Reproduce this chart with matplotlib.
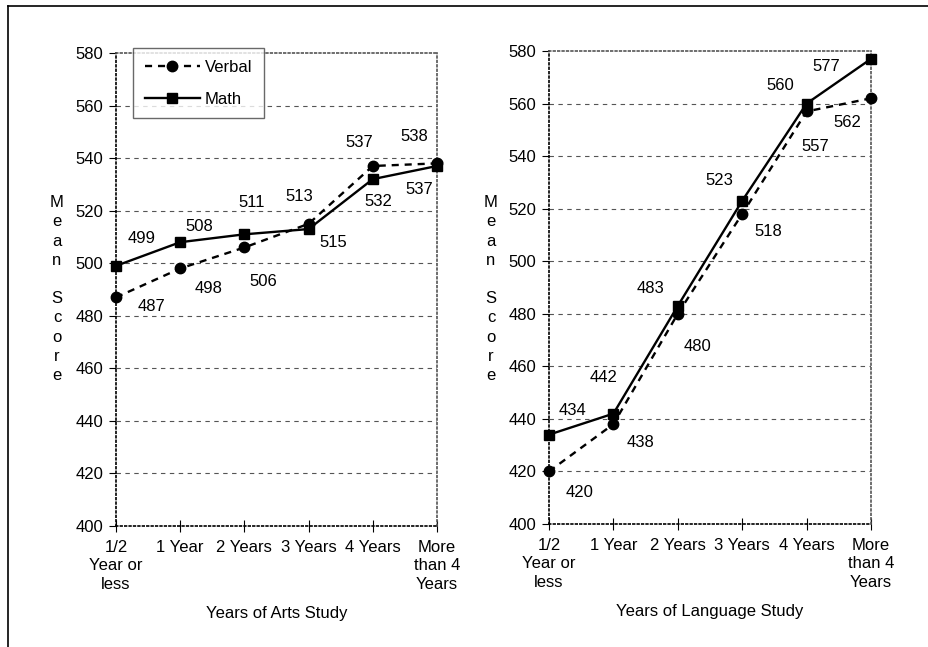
import numpy as np
import matplotlib.pyplot as plt
from matplotlib.lines import Line2D

plt.rcParams['font.family'] = ['Liberation Sans', 'DejaVu Sans']

# categories
cat_labels = ["1/2\nYear or\nless", "1 Year", "2 Years", "3 Years", "4 Years", "More\nthan 4\nYears"]

# arts study scores
arts_verbal = [487, 498, 506, 515, 537, 538]
arts_math = [499, 508, 511, 513, 532, 537]

# language study scores
lang_verbal = [420, 438, 480, 518, 557, 562]
lang_math = [434, 442, 483, 523, 560, 577]

# label offsets in pixels (dx, dy)
arts_verbal_off = [(35, -9), (28, -20), (19, -34), (25, -19), (-14, 23), (-23, 27)]
arts_math_off = [(26, 27), (19, 16), (7, 32), (-9, 33), (6, -22), (-18, -24)]
lang_verbal_off = [(31, -21), (27, -18), (20, -33), (26, -18), (9, -35), (-24, -24)]
lang_math_off = [(24, 24), (-10, 36), (-27, 17), (-23, 20), (-26, 18), (-45, -8)]

W, H = 929, 647
fig = plt.figure(figsize=(W / 100, H / 100), dpi=100)

FS = 12


def make_panel(rect, verbal, math, voff, moff, xlabel, ylab_x, legend=False):
    ax = fig.add_axes(rect)
    x = np.arange(len(cat_labels))
    ax.plot(x, verbal, color='black', linestyle=(0, (3, 2.5)), linewidth=1.7,
            marker='o', markersize=7.5, label='Verbal', clip_on=False, zorder=3)
    ax.plot(x, math, color='black', linestyle='-', linewidth=1.7,
            marker='s', markersize=7.5, label='Math', clip_on=False, zorder=3)
    for xi, v, o in zip(x, verbal, voff):
        ax.annotate(str(v), (xi, v), xytext=o, textcoords='offset pixels',
                    ha='center', va='center', fontsize=FS)
    for xi, v, o in zip(x, math, moff):
        ax.annotate(str(v), (xi, v), xytext=o, textcoords='offset pixels',
                    ha='center', va='center', fontsize=FS)

    ax.set_xlim(0, 5)
    ax.set_ylim(400, 580)
    ax.set_yticks(range(400, 581, 20))
    ax.set_xticks(x)
    ax.set_xticklabels(cat_labels, fontsize=FS, linespacing=1.3)
    ax.tick_params(axis='y', direction='out', length=5, labelsize=FS, pad=4)
    ax.tick_params(axis='x', direction='inout', length=8, pad=6)
    for yv in range(420, 561, 20):
        ax.axhline(yv, color='#555555', linestyle=(0, (4, 4)), linewidth=0.8, zorder=1)
    for s in ax.spines.values():
        s.set_linestyle(':')
        s.set_color('#555555')
        s.set_linewidth(1.2)
    ax.spines['bottom'].set_color('black')
    ax.spines['left'].set_color('black')
    ax.set_xlabel(xlabel, fontsize=FS, labelpad=10)

    fig.text(ylab_x / W, 1 - 289 / H, "M\ne\na\nn\n\nS\nc\no\nr\ne",
             ha='center', va='center', fontsize=FS, linespacing=1.35)

    if legend:
        leg = ax.legend(loc='upper left', bbox_to_anchor=(0.053, 1.01), fontsize=FS,
                        frameon=True, fancybox=False, handlelength=3.3,
                        borderpad=0.7, labelspacing=1.0, handletextpad=0.3,
                        borderaxespad=0)
        leg.get_frame().set_edgecolor('#444444')
        leg.get_frame().set_linewidth(1.0)
        leg.set_zorder(5)
    return ax


make_panel([116 / W, 1 - 526 / H, 321 / W, 473 / H], arts_verbal, arts_math,
           arts_verbal_off, arts_math_off, "Years of Arts Study", 57, legend=True)
make_panel([549 / W, 1 - 524 / H, 322 / W, 473 / H], lang_verbal, lang_math,
           lang_verbal_off, lang_math_off, "Years of Language Study", 491)

# outer frame (top and left only)
fig.add_artist(Line2D([8 / W, 1], [1 - 6 / H, 1 - 6 / H], color='black', linewidth=1.2))
fig.add_artist(Line2D([8 / W, 8 / W], [0, 1 - 6 / H], color='black', linewidth=1.2))

fig.savefig('out.png', dpi=100)
